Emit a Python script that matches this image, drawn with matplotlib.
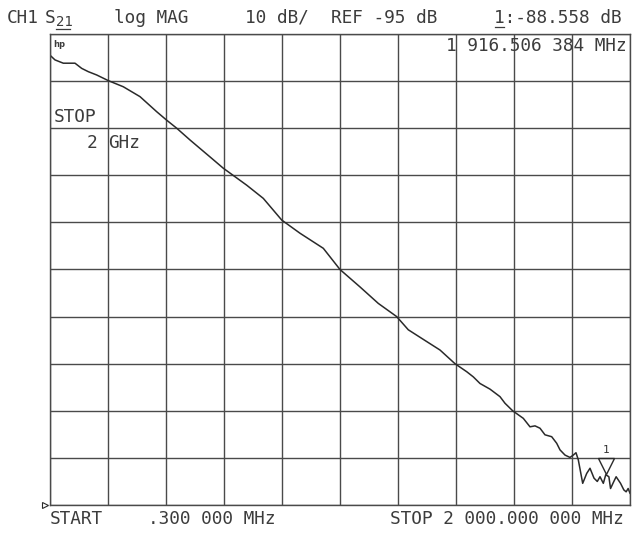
import numpy as np
import matplotlib
matplotlib.use("Agg")
import matplotlib.pyplot as plt
from matplotlib.lines import Line2D
from matplotlib.transforms import offset_copy

# ---- data (frequency in MHz, magnitude in dB) ----
freq_mhz = [0.3, 17.5, 46.2, 86.5, 109.6, 132.4, 161.3, 201.3, 253.0, 310.6,
            368.2, 402.6, 437.1, 483.0, 517.5, 557.8, 597.8, 678.5, 735.7, 799.2,
            862.2, 942.6, 1000.1, 1069.1, 1132.2, 1195.6, 1235.6, 1299.1, 1345.0, 1396.6,
            1437.0, 1459.8, 1482.8, 1517.3, 1551.8, 1569.0, 1595.5, 1632.1, 1655.2, 1672.5,
            1689.7, 1706.9, 1730.0, 1747.3, 1758.7, 1775.9, 1793.1, 1804.5, 1813.8, 1821.7,
            1836.9, 1850.7, 1862.1, 1875.9, 1887.2, 1896.6, 1908.0, 1916.5, 1927.2, 1932.9,
            1944.3, 1952.2, 1967.4, 1978.8, 1986.7, 1993.6, 2000.0]
mag_db = [0.5, -0.5, -1.2, -1.2, -2.3, -3.0, -3.7, -4.9, -6.2, -8.3,
          -11.5, -13.3, -15.0, -17.5, -19.3, -21.4, -23.5, -27.1, -29.9, -34.5,
          -37.3, -40.5, -45.0, -48.7, -52.2, -55.0, -57.8, -60.3, -62.1, -65.0,
          -66.7, -67.8, -69.2, -70.4, -72.0, -73.4, -75.0, -76.6, -78.4, -78.2,
          -78.7, -80.1, -80.5, -81.9, -83.3, -84.4, -84.9, -84.4, -83.9, -85.4,
          -90.4, -88.3, -87.2, -89.3, -90.0, -89.0, -90.4, -88.558, -89.0, -91.5,
          -90.0, -89.0, -90.4, -91.8, -92.2, -91.5, -92.5]

start_mhz = 0.3
stop_mhz = 2000.0
ref_db = -95
scale_db = 10
n_div = 10
marker_mhz = 1916.506384
marker_db = -88.558

# ---- figure ----
W, H = 640, 533
fig = plt.figure(figsize=(W / 100, H / 100), dpi=100)
fig.patch.set_facecolor("white")

def fx(px):
    return px / W

def fy(py):
    return 1 - py / H

ax_l, ax_r, ax_t, ax_b = 50, 630, 34, 505
ax = fig.add_axes([fx(ax_l), fy(ax_b), fx(ax_r - ax_l), fy(ax_t) - fy(ax_b)])
ax.set_xlim(start_mhz, stop_mhz)
ax.set_ylim(ref_db, ref_db + scale_db * n_div)
ax.set_xticks(np.linspace(start_mhz, stop_mhz, n_div + 1))
ax.set_yticks(np.arange(ref_db, ref_db + scale_db * n_div + 1, scale_db))
ax.tick_params(length=0, labelbottom=False, labelleft=False)
grid_col = "#4a4a4a"
ax.grid(True, color=grid_col, linewidth=1.0)
for s in ax.spines.values():
    s.set_color(grid_col)
    s.set_linewidth(1.0)

trace_col = "#2a2a2a"
ax.plot(freq_mhz, mag_db, color=trace_col, linewidth=1.1)

# marker triangle and label
tri_tr = offset_copy(ax.transData, fig=fig, x=0, y=9, units="dots")
ax.plot([marker_mhz], [marker_db], marker="v", ms=11, mfc="none",
        mec=trace_col, mew=1.0, transform=tri_tr, clip_on=False)
lab_tr = offset_copy(ax.transData, fig=fig, x=0, y=25, units="dots")
ax.text(marker_mhz, marker_db, "1", transform=lab_tr, ha="center", va="center",
        fontsize=8, family="DejaVu Sans Mono", color="#333333")

# reference position indicator
ax.plot([-0.008], [0.0], marker=">", ms=5, mfc="none", mec=trace_col, mew=0.8,
        transform=ax.transAxes, clip_on=False)

# ---- texts ----
mono = "DejaVu Sans Mono"
tc = "#3c3c3c"
fs = 12.8

def t(px, py, s, size=fs, **kw):
    fig.text(fx(px), fy(py), s, fontsize=size, family=mono, color=tc,
             ha="left", va="center", **kw)

t(7, 18, "CH1")
t(45, 18, "S")
t(56, 22, "21", size=10)
fig.add_artist(Line2D([fx(56), fx(70)], [fy(29), fy(29)], color=tc, lw=0.9))
t(114, 18, "log MAG")
t(245, 18, "10 dB/")
t(331, 18, "REF -95 dB")
t(494, 18, "1:-88.558 dB")
fig.add_artist(Line2D([fx(495), fx(504)], [fy(27), fy(27)], color=tc, lw=0.9))

t(446, 46, "1 916.506 384 MHz")
fig.text(fx(53), fy(45), "hp", fontsize=6, family="DejaVu Sans", weight="bold",
         color=tc, ha="left", va="center")
t(54, 117, "STOP")
t(87, 143, "2")
t(108, 143, "GHz")

t(50, 519, "START")
t(148, 519, ".300 000 MHz")
t(390, 519, "STOP 2 000.000 000 MHz")

fig.savefig("out.png", dpi=100, facecolor="white")
